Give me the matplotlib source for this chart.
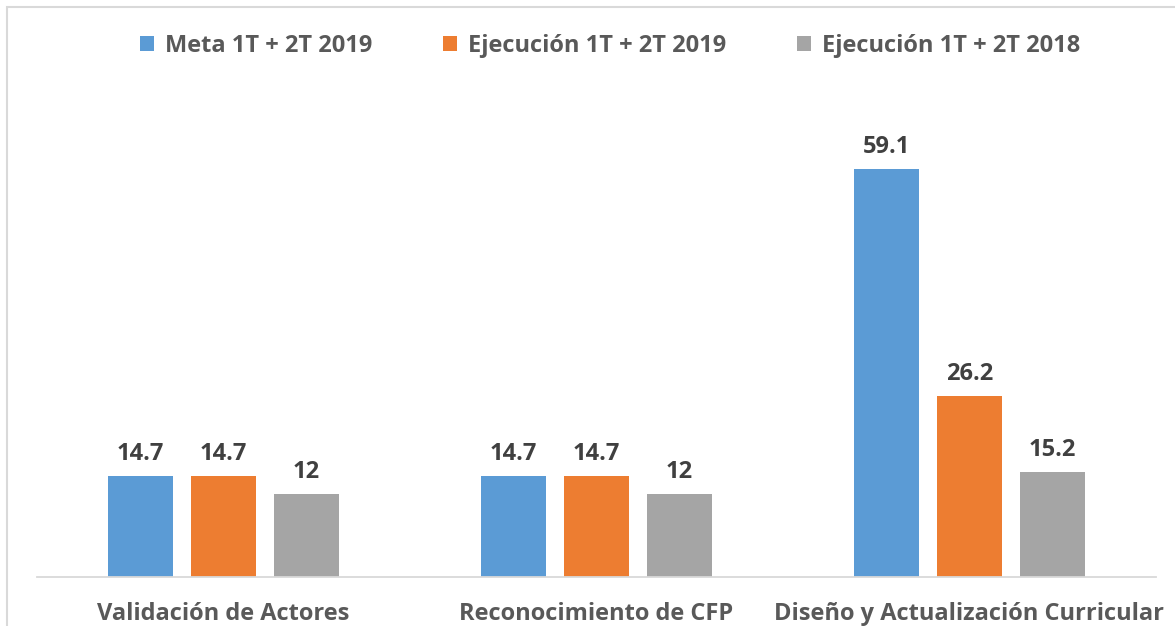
import matplotlib.pyplot as plt
import numpy as np
from matplotlib.patches import Rectangle

categories = ["Validación de Actores", "Reconocimiento de CFP",
              "Diseño y Actualización Curricular"]
series_names = ["Meta 1T + 2T 2019", "Ejecución 1T + 2T 2019",
                "Ejecución 1T + 2T 2018"]
meta_2019 = [14.7, 14.7, 59.1]
ejec_2019 = [14.7, 14.7, 26.2]
ejec_2018 = [12, 12, 15.2]
value_labels = [["14.7", "14.7", "59.1"],
                ["14.7", "14.7", "26.2"],
                ["12", "12", "15.2"]]

colors = ["#5b9bd5", "#ed7d31", "#a5a5a5"]
text_color = "#595959"
plt.rcParams["font.family"] = ["Open Sans", "DejaVu Sans"]

fig = plt.figure(figsize=(11.75, 6.26), dpi=100)
W, H = 1175, 626
ax = fig.add_axes([37 / W, 1 - 577 / H, (1156 - 37) / W, 517.5 / H])

x = np.arange(len(categories))
width = 0.174
step = 0.2225
for i, (vals, name) in enumerate(zip([meta_2019, ejec_2019, ejec_2018], series_names)):
    bars = ax.bar(x + (i - 1) * step, vals, width, color=colors[i], label=name)
    for b, lab in zip(bars, value_labels[i]):
        ax.annotate(lab, (b.get_x() + b.get_width() / 2, b.get_height()),
                    xytext=(0, 7), textcoords="offset points",
                    ha="center", va="bottom", fontsize=17, fontweight="bold",
                    color="#404040")

ax.set_xlim(-0.5, 2.5)
ax.set_ylim(0, 75)
ax.set_yticks([])
ax.set_xticks(x)
ax.set_xticklabels(categories, fontsize=17, fontweight="bold", color=text_color)
ax.tick_params(axis="x", length=0, pad=18)
for s in ["top", "right", "left"]:
    ax.spines[s].set_visible(False)
ax.spines["bottom"].set_color("#d9d9d9")
ax.spines["bottom"].set_linewidth(1.3)

leg = fig.legend(loc="center", bbox_to_anchor=(610 / W, 1 - 46 / H), ncol=3,
                 frameon=False, handlelength=0.6, handleheight=0.6,
                 handletextpad=0.45, columnspacing=3.0,
                 prop={"size": 17, "weight": "bold"})
for t in leg.get_texts():
    t.set_color(text_color)

fig.patches.append(Rectangle((7 / W, -0.1), 1.2, 1 - 7 / H + 0.1,
                             transform=fig.transFigure, fill=False,
                             edgecolor="#d9d9d9", linewidth=1.5))

fig.savefig("out.png", dpi=100)
